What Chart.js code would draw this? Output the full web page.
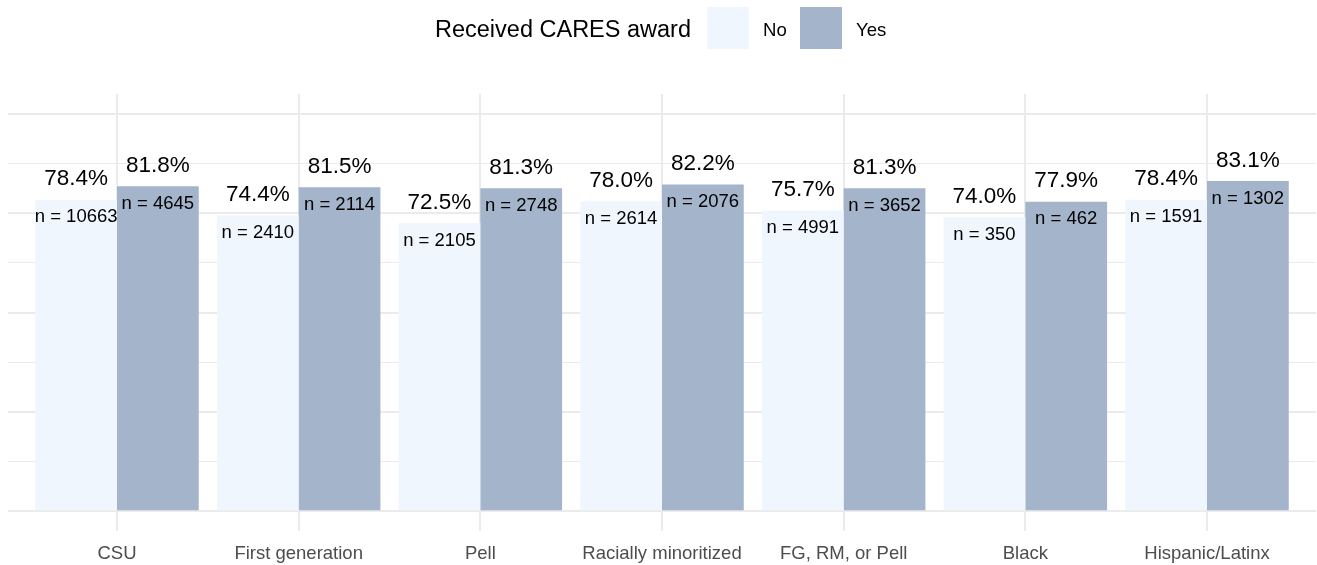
<!DOCTYPE html>
<html>
<head>
<meta charset="utf-8">
<script src="https://cdn.jsdelivr.net/npm/chart.js@4.4.1/dist/chart.umd.min.js"></script>
<style>
  html, body { margin: 0; padding: 0; background: #ffffff; }
  #wrap { width: 1317px; height: 565px; }
</style>
</head>
<body>
<div id="wrap"><canvas id="c" width="1317" height="565"></canvas></div>
<script>
const categories = ["CSU", "First generation", "Pell", "Racially minoritized", "FG, RM, or Pell", "Black", "Hispanic/Latinx"];
const seriesNames = ["No", "Yes"];
const noPct  = [78.4, 74.4, 72.5, 78.0, 75.7, 74.0, 78.4];
const yesPct = [81.8, 81.5, 81.3, 82.2, 81.3, 77.9, 83.1];
const noN    = [10663, 2410, 2105, 2614, 4991, 350, 1591];
const yesN   = [4645, 2114, 2748, 2076, 3652, 462, 1302];
const yGridTicks = [0, 12.5, 25, 37.5, 50, 62.5, 75, 87.5, 100];
const legendTitle = "Received CARES award";

const FONT = "'Liberation Sans', Arial, sans-serif";
const colNo = "#EFF6FE";
const colYes = "#A3B4CB";
const gridCol = "#EBEBEB";

const toPoints = arr => arr.map((v, i) => ({ x: i + 1, y: v }));

const labelPlugin = {
  id: 'barLabels',
  afterDatasetsDraw(chart) {
    const ctx = chart.ctx;
    const nArrays = [noN, yesN];
    ctx.save();
    ctx.textAlign = 'center';
    ctx.textBaseline = 'middle';
    ctx.fillStyle = '#000000';
    chart.data.datasets.forEach((ds, di) => {
      const meta = chart.getDatasetMeta(di);
      meta.data.forEach((bar, i) => {
        const v = ds.data[i].y;
        ctx.font = "22.5px " + FONT;
        ctx.fillText(v.toFixed(1) + "%", bar.x, bar.y - 20.5);
        ctx.font = "18.5px " + FONT;
        ctx.fillText("n = " + nArrays[di][i], bar.x, bar.y + 17.5);
      });
    });
    ctx.restore();
  }
};

const legendPlugin = {
  id: 'ggLegend',
  afterDraw(chart) {
    const ctx = chart.ctx;
    ctx.save();
    ctx.textBaseline = 'middle';
    ctx.textAlign = 'left';
    ctx.fillStyle = '#000000';
    ctx.font = "23.5px " + FONT;
    ctx.fillText(legendTitle, 435, 31);
    const boxX = [707, 800];
    ctx.font = "18.6px " + FONT;
    chart.data.datasets.forEach((ds, di) => {
      ctx.fillStyle = ds.backgroundColor;
      ctx.fillRect(boxX[di], 7, 42, 42);
      ctx.fillStyle = '#000000';
      ctx.fillText(ds.label, boxX[di] + 56, 31);
    });
    ctx.restore();
  }
};

new Chart(document.getElementById('c'), {
  type: 'bar',
  data: {
    datasets: [
      { label: seriesNames[0], data: toPoints(noPct), backgroundColor: colNo, borderWidth: 0 },
      { label: seriesNames[1], data: toPoints(yesPct), backgroundColor: colYes, borderWidth: 0 }
    ]
  },
  options: {
    responsive: false,
    animation: false,
    devicePixelRatio: 1,
    layout: { padding: { top: 94, left: 8, right: 1, bottom: 0 } },
    datasets: { bar: { categoryPercentage: 0.9, barPercentage: 1.0 } },
    plugins: { legend: { display: false }, tooltip: { enabled: false }, title: { display: false } },
    scales: {
      x: {
        type: 'linear',
        min: 0.4,
        max: 7.6,
        offset: false,
        afterBuildTicks: s => { s.ticks = categories.map((_, i) => ({ value: i + 1 })); },
        afterFit: s => { s.height = 34; },
        border: { display: false },
        grid: { color: gridCol, lineWidth: 2, drawTicks: false, tickLength: 0, offset: false },
        ticks: {
          autoSkip: false, maxRotation: 0, minRotation: 0,
          padding: 12,
          color: '#4D4D4D',
          font: { family: FONT, size: 18.5 },
          callback: v => categories[Math.round(v) - 1]
        }
      },
      y: {
        min: -5,
        max: 105,
        afterBuildTicks: s => { s.ticks = yGridTicks.map(v => ({ value: v })); },
        afterFit: s => { s.width = 0; },
        border: { display: false },
        grid: {
          color: gridCol,
          lineWidth: c => (c.tick && c.tick.value % 25 === 0) ? 2 : 1,
          drawTicks: false, tickLength: 0
        },
        ticks: { display: false }
      }
    }
  },
  plugins: [labelPlugin, legendPlugin]
});
</script>
</body>
</html>
